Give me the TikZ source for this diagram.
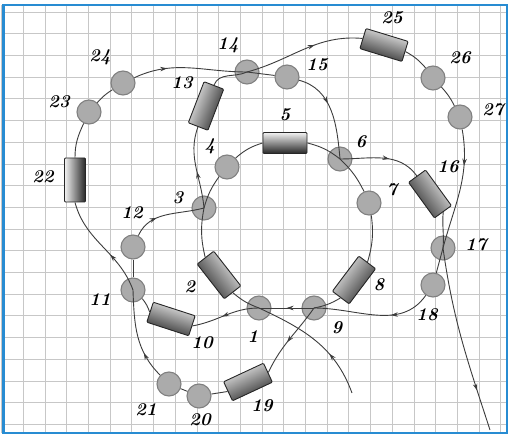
\documentclass[tikz,border=0pt]{standalone}
\usetikzlibrary{arrows.meta,decorations.markings}

\definecolor{frameblue}{RGB}{40,140,210}
\definecolor{linegray}{RGB}{60,60,60}

\begin{document}
\begin{tikzpicture}[x=1pt,y=1pt,
  ball/.style={circle,draw=black!50,line width=1.1pt,fill=black!33,minimum size=24pt,inner sep=0pt},
  tube/.style={rectangle,rounded corners=1pt,draw=black!85,line width=0.9pt,top color=black!5,middle color=black!55,bottom color=black!85,shading angle=#1,rotate=#1,minimum width=44pt,minimum height=21pt,inner sep=0pt},
  tube/.default=0,
  num/.style={font=\fontsize{18}{20}\selectfont\bfseries\itshape,inner sep=0pt},
  route/.style={draw=linegray,line width=0.9pt},
  gridline/.style={draw=black!22,line width=0.6pt},
  midarrow/.style={postaction={decorate},decoration={markings,mark=at position #1 with {\arrow{Stealth[length=7pt,width=4.5pt]}}}},
  midarrow/.default=0.5]
\useasboundingbox (0,0) rectangle (515,437);

\foreach \k in {0,...,23} \draw[gridline] (1.5+21.7*\k,4) -- (1.5+21.7*\k,432);
\foreach \k in {0,...,19} \draw[gridline] (3.5,12.7+21.7*\k) -- (507,12.7+21.7*\k);
\draw[frameblue,line width=2.5pt] (3.5,4) rectangle (507,432);

\node[ball] (c1) at (259,129) {};
\node[ball] (c3) at (204,229) {};
\node[ball] (c4) at (227,270) {};
\node[ball] (c6) at (340,278) {};
\node[ball] (c7) at (369,234) {};
\node[ball] (c9) at (314,129) {};
\node[ball] (c11) at (133,147) {};
\node[ball] (c12) at (133,190) {};
\node[ball] (c14) at (247,365) {};
\node[ball] (c15) at (287,360) {};
\node[ball] (c17) at (443,189) {};
\node[ball] (c18) at (433,152) {};
\node[ball] (c20) at (199,41) {};
\node[ball] (c21) at (169,53) {};
\node[ball] (c23) at (89,325) {};
\node[ball] (c24) at (123,354) {};
\node[ball] (c26) at (433,359) {};
\node[ball] (c27) at (460,320) {};

\node[tube=-52] (r2) at (219,162) {};
\node[tube] (r5) at (285,294) {};
\node[tube=53] (r8) at (354,157) {};
\node[tube=-18] (r10) at (171,118) {};
\node[tube=69] (r13) at (206,331) {};
\node[tube=-54] (r16) at (430,243) {};
\node[tube=25] (r19) at (248,55) {};
\node[tube=90] (r22) at (75,257) {};
\node[tube=-17] (r25) at (384,392) {};

\coordinate (entry) at (352,44);
\coordinate (exit) at (490,7);

\draw[route] (c1.center) to[bend left=10] (r2.east);
\draw[route] (r2.west) to[bend left=12] (c3.center);
\draw[route] (c3.center) to[bend left=10] (c4);
\draw[route] (c4) to[bend left=12] (r5.west);
\draw[route] (r5.east) to[bend left=12] (c6.center);
\draw[route] (c6.center) to[bend left=10] (c7);
\draw[route] (c7) to[bend left=12] (r8.east);
\draw[route] (r8.west) to[bend left=10] (c9.center);

\draw[route,midarrow=0.35] (c18) to[out=235,in=0] (c9.center);
\draw[route,midarrow] (c9.center) -- (c1.center);
\draw[route,midarrow=0.55] (c1.center) to[out=180,in=10] (r10.east);
\draw[route] (r10.west) to[bend right=10] (c11);
\draw[route] (c11) -- (c12);
\draw[route,midarrow=0.35] (c12) to[out=65,in=195] (c3.center);
\draw[route,midarrow=0.45] (c3.center) to[out=95,in=-110] (r13.west);
\draw[route] (r13.east) to[out=69,in=205] (c14.center);
\draw[route] (c14.center) -- (c15);
\draw[route,midarrow=0.4] (c15) to[out=-15,in=95] (c6.center);
\draw[route,midarrow=0.6] (c6.center) to[out=0,in=126] (r16.west);
\draw[route] (r16.east) to[out=-95,in=85] (c17.center);
\draw[route] (c17.center) -- (c18);

\draw[route,midarrow=0.55] (c9.center) to[out=235,in=65] (r19.east);
\draw[route] (r19.west) -- (c20);
\draw[route] (c20) -- (c21);
\draw[route,midarrow=0.3] (c21) to[out=135,in=-88] (c11.center);
\draw[route,midarrow=0.4] (c11.center) to[out=110,in=-75] (r22.west);
\draw[route] (r22.east) to[out=90,in=245] (c23);
\draw[route] (c23) to[bend left=8] (c24);
\draw[route,midarrow=0.3] (c24) to[out=25,in=180] (c14.center);
\draw[route,midarrow=0.6] (c14.center) to[out=15,in=175] (r25.west);
\draw[route] (r25.east) to[bend left=10] (c26);
\draw[route] (c26) to[bend left=8] (c27);
\draw[route,midarrow=0.3] (c27) to[out=-80,in=75] (c17.center);
\draw[route,midarrow=0.78] (c17.center) to[out=-82,in=108] (exit);
\draw[route,midarrow=0.35] (entry) to[out=110,in=-25] (c1.center);

\node[num] (n1) at (253,100) {1};
\node[num] (n2) at (190,150) {2};
\node[num] (n3) at (178,239) {3};
\node[num] (n4) at (210,291) {4};
\node[num] (n5) at (285,322) {5};
\node[num] (n6) at (361,295) {6};
\node[num] (n7) at (392,247) {7};
\node[num] (n8) at (379,152) {8};
\node[num] (n9) at (337,109) {9};
\node[num] (n10) at (202,94) {10};
\node[num] (n11) at (100,137) {11};
\node[num] (n12) at (132,224) {12};
\node[num] (n13) at (182,354) {13};
\node[num] (n14) at (228,392) {14};
\node[num] (n15) at (317,372) {15};
\node[num] (n16) at (448,270) {16};
\node[num] (n17) at (476,192) {17};
\node[num] (n18) at (427,122) {18};
\node[num] (n19) at (262,31) {19};
\node[num] (n20) at (200,17) {20};
\node[num] (n21) at (146,27) {21};
\node[num] (n22) at (43,260) {22};
\node[num] (n23) at (59,335) {23};
\node[num] (n24) at (100,380) {24};
\node[num] (n25) at (392,419) {25};
\node[num] (n26) at (460,379) {26};
\node[num] (n27) at (493,327) {27};
\end{tikzpicture}
\end{document}
